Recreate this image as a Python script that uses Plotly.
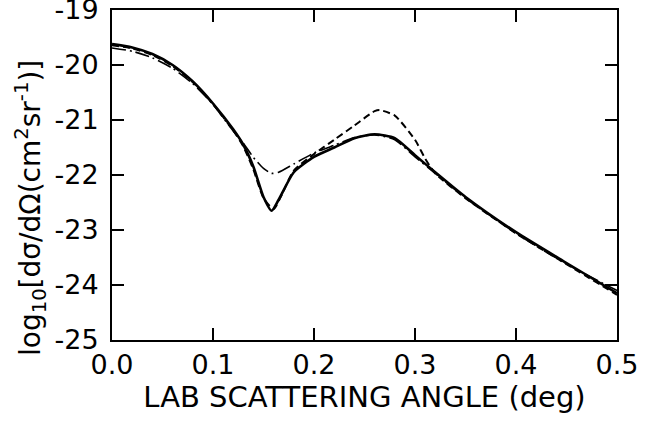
import plotly.graph_objects as go

# Solid curve
x_solid = [0.00, 0.02, 0.04, 0.06, 0.08, 0.10, 0.12, 0.13, 0.14, 0.15, 0.158, 0.165, 0.18, 0.20, 0.22, 0.24, 0.26, 0.28, 0.30, 0.32, 0.35, 0.40, 0.45, 0.50]
y_solid = [-19.62, -19.68, -19.80, -20.00, -20.30, -20.70, -21.17, -21.45, -21.85, -22.40, -22.65, -22.45, -21.95, -21.67, -21.50, -21.33, -21.26, -21.33, -21.64, -21.95, -22.40, -23.04, -23.60, -24.15]

# Dashed curve
x_dash = [0.00, 0.02, 0.04, 0.06, 0.08, 0.10, 0.12, 0.13, 0.14, 0.15, 0.16, 0.167, 0.18, 0.20, 0.22, 0.24, 0.26, 0.265, 0.28, 0.30, 0.31, 0.32, 0.35, 0.40, 0.45, 0.50]
y_dash = [-19.64, -19.70, -19.82, -20.02, -20.31, -20.71, -21.19, -21.48, -21.90, -22.42, -22.62, -22.40, -21.92, -21.62, -21.36, -21.10, -20.84, -20.82, -20.92, -21.36, -21.70, -21.97, -22.42, -23.06, -23.62, -24.18]

# Dash-dot curve
x_dd = [0.00, 0.02, 0.04, 0.06, 0.08, 0.10, 0.12, 0.13, 0.14, 0.15, 0.158, 0.165, 0.18, 0.20, 0.22, 0.24, 0.26, 0.28, 0.30, 0.32, 0.35, 0.40, 0.45, 0.50]
y_dd = [-19.69, -19.75, -19.87, -20.06, -20.34, -20.72, -21.20, -21.42, -21.68, -21.88, -21.97, -21.95, -21.80, -21.60, -21.46, -21.32, -21.27, -21.36, -21.67, -21.97, -22.42, -23.06, -23.62, -24.10]

x_ticks = [0.0, 0.1, 0.2, 0.3, 0.4, 0.5]
x_ticktext = ["0.0", "0.1", "0.2", "0.3", "0.4", "0.5"]
y_ticks = [-19, -20, -21, -22, -23, -24, -25]
y_ticktext = ["-19", "-20", "-21", "-22", "-23", "-24", "-25"]
x_title = "LAB SCATTERING ANGLE (deg)"
y_title = "log<sub>10</sub>[dσ/dΩ(cm<sup>2</sup>sr<sup>-1</sup>)]"

fig = go.Figure()
fig.add_trace(go.Scatter(x=x_dd, y=y_dd, mode="lines", line=dict(color="black", width=1.6, dash="14px,4px,2px,4px", shape="spline", smoothing=0.6)))
fig.add_trace(go.Scatter(x=x_dash, y=y_dash, mode="lines", line=dict(color="black", width=2, dash="7px,4px", shape="spline", smoothing=0.6)))
fig.add_trace(go.Scatter(x=x_solid, y=y_solid, mode="lines", line=dict(color="black", width=2.6, shape="spline", smoothing=0.6)))

font = "DejaVu Sans, Arial, sans-serif"
axis_common = dict(showgrid=False, zeroline=False, showline=True, linecolor="black", linewidth=2,
                   mirror="allticks", ticks="inside", ticklen=12, tickwidth=2, tickcolor="black",
                   automargin=False, ticklabeloverflow="allow",
                   tickfont=dict(family=font, size=27, color="black"))

fig.update_layout(
    width=658, height=423,
    margin=dict(l=112, r=41, t=10, b=83),
    paper_bgcolor="white", plot_bgcolor="white",
    showlegend=False,
    xaxis=dict(range=[0, 0.5], tickvals=x_ticks, ticktext=x_ticktext, ticklabelstandoff=0,
               title=dict(text=x_title, font=dict(family=font, size=29, color="black"), standoff=0),
               **axis_common),
    yaxis=dict(range=[-25, -19], tickvals=y_ticks, ticktext=y_ticktext, ticklabelstandoff=6,
               **axis_common),
    annotations=[dict(text=y_title, textangle=-90, xref="paper", yref="paper", x=0, y=0.40,
                      xanchor="center", yanchor="middle", xshift=-82, showarrow=False,
                      font=dict(family=font, size=28, color="black"))],
)

fig.write_html("out.html", config={"displayModeBar": False},
               post_script="document.body.style.margin='0';")
